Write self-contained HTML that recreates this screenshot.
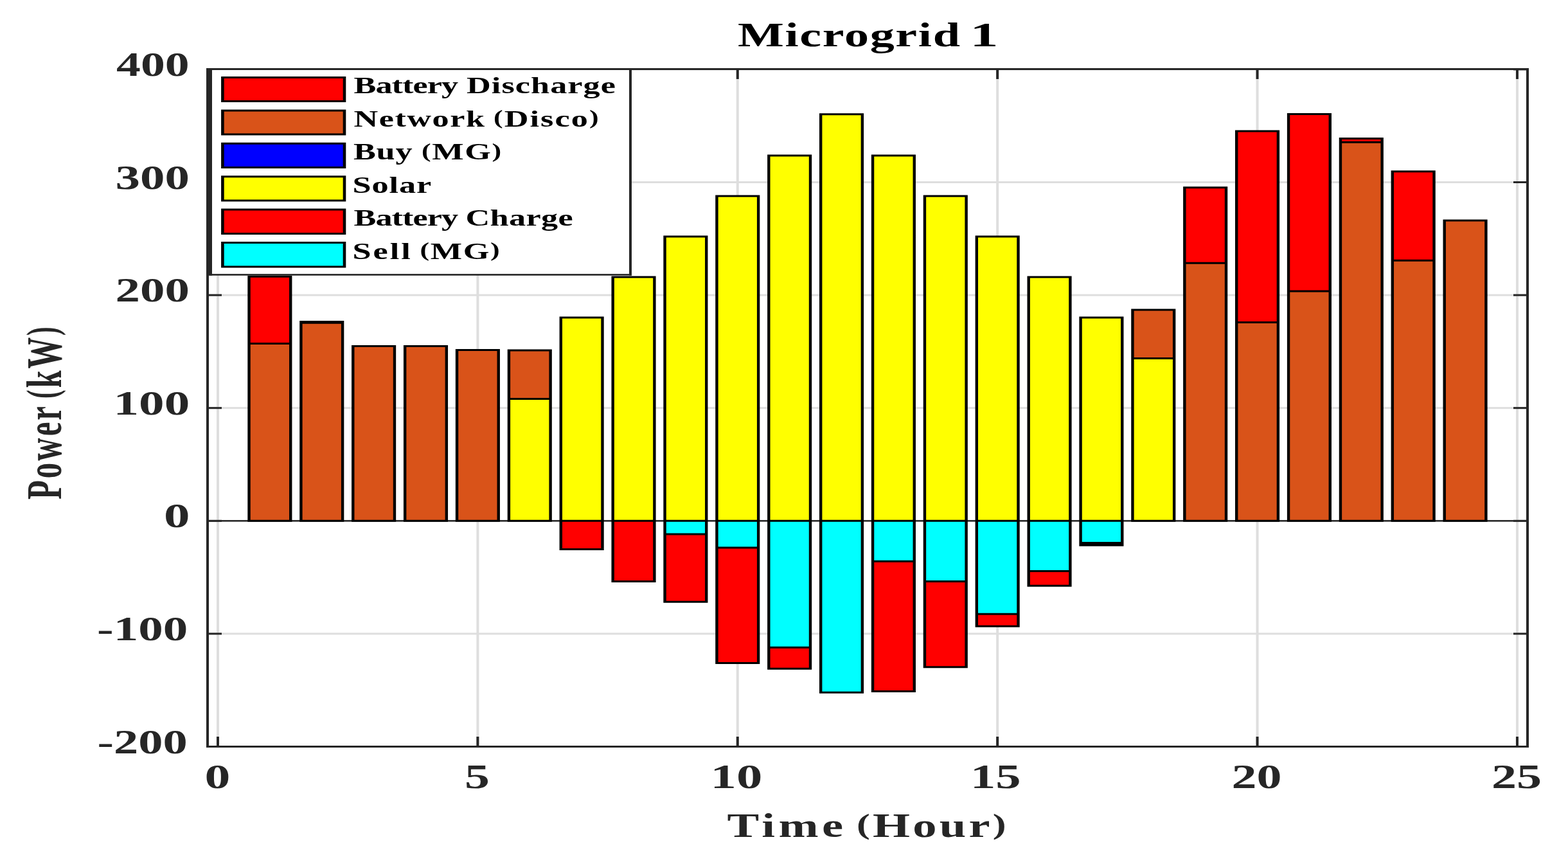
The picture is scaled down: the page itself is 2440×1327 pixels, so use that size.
<!DOCTYPE html><html><head><meta charset="utf-8"><title>Microgrid 1</title><style>html,body{margin:0;padding:0;background:#fff;}svg{display:block}text{font-family:"Liberation Serif","Times New Roman",serif;font-weight:bold;}</style></head><body>
<svg width="2440" height="1327" viewBox="0 0 2440 1327">
<rect x="0" y="0" width="2440" height="1327" fill="#fff"/>
<rect x="337" y="107.5" width="4" height="1054" fill="#dedede"/>
<rect x="741.39" y="107.5" width="4" height="1054" fill="#dedede"/>
<rect x="1145.78" y="107.5" width="4" height="1054" fill="#dedede"/>
<rect x="1550.17" y="107.5" width="4" height="1054" fill="#dedede"/>
<rect x="1954.56" y="107.5" width="4" height="1054" fill="#dedede"/>
<rect x="2358.95" y="107.5" width="4" height="1054" fill="#dedede"/>
<rect x="323" y="1160" width="2054" height="3" fill="#dedede"/>
<rect x="323" y="984.4" width="2054" height="3" fill="#dedede"/>
<rect x="323" y="808.8" width="2054" height="3" fill="#dedede"/>
<rect x="323" y="633.2" width="2054" height="3" fill="#dedede"/>
<rect x="323" y="457.6" width="2054" height="3" fill="#dedede"/>
<rect x="323" y="282" width="2054" height="3" fill="#dedede"/>
<rect x="323" y="106.4" width="2054" height="3" fill="#dedede"/>
<rect x="337" y="1146" width="4" height="15.5" fill="#262626"/>
<rect x="337" y="107.5" width="4" height="15.5" fill="#262626"/>
<rect x="741.39" y="1146" width="4" height="15.5" fill="#262626"/>
<rect x="741.39" y="107.5" width="4" height="15.5" fill="#262626"/>
<rect x="1145.78" y="1146" width="4" height="15.5" fill="#262626"/>
<rect x="1145.78" y="107.5" width="4" height="15.5" fill="#262626"/>
<rect x="1550.17" y="1146" width="4" height="15.5" fill="#262626"/>
<rect x="1550.17" y="107.5" width="4" height="15.5" fill="#262626"/>
<rect x="1954.56" y="1146" width="4" height="15.5" fill="#262626"/>
<rect x="1954.56" y="107.5" width="4" height="15.5" fill="#262626"/>
<rect x="2358.95" y="1146" width="4" height="15.5" fill="#262626"/>
<rect x="2358.95" y="107.5" width="4" height="15.5" fill="#262626"/>
<rect x="323" y="1160" width="22" height="3" fill="#262626"/>
<rect x="2355" y="1160" width="22" height="3" fill="#262626"/>
<rect x="323" y="984.4" width="22" height="3" fill="#262626"/>
<rect x="2355" y="984.4" width="22" height="3" fill="#262626"/>
<rect x="323" y="808.8" width="22" height="3" fill="#262626"/>
<rect x="2355" y="808.8" width="22" height="3" fill="#262626"/>
<rect x="323" y="633.2" width="22" height="3" fill="#262626"/>
<rect x="2355" y="633.2" width="22" height="3" fill="#262626"/>
<rect x="323" y="457.6" width="22" height="3" fill="#262626"/>
<rect x="2355" y="457.6" width="22" height="3" fill="#262626"/>
<rect x="323" y="282" width="22" height="3" fill="#262626"/>
<rect x="2355" y="282" width="22" height="3" fill="#262626"/>
<rect x="323" y="106.4" width="22" height="3" fill="#262626"/>
<rect x="2355" y="106.4" width="22" height="3" fill="#262626"/>
<rect x="323" y="809.05" width="2054" height="2.5" fill="#262626"/>
<rect x="387.53" y="534.5" width="64.7" height="275.8" fill="#d95319"/>
<rect x="387.53" y="430.2" width="64.7" height="104.3" fill="#ff0000"/>
<rect x="468.4" y="502.3" width="64.7" height="308" fill="#d95319"/>
<rect x="468.4" y="500.6" width="64.7" height="1.7" fill="#ff0000"/>
<rect x="549.28" y="538.6" width="64.7" height="271.7" fill="#d95319"/>
<rect x="630.16" y="538.6" width="64.7" height="271.7" fill="#d95319"/>
<rect x="711.04" y="544.5" width="64.7" height="265.8" fill="#d95319"/>
<rect x="791.92" y="620.5" width="64.7" height="189.8" fill="#ffff00"/>
<rect x="791.92" y="545" width="64.7" height="75.5" fill="#d95319"/>
<rect x="872.79" y="494" width="64.7" height="316.3" fill="#ffff00"/>
<rect x="872.79" y="810.3" width="64.7" height="44.2" fill="#ff0000"/>
<rect x="953.67" y="431" width="64.7" height="379.3" fill="#ffff00"/>
<rect x="953.67" y="810.3" width="64.7" height="94.3" fill="#ff0000"/>
<rect x="1034.55" y="367.9" width="64.7" height="442.4" fill="#ffff00"/>
<rect x="1034.55" y="810.3" width="64.7" height="20.7" fill="#00ffff"/>
<rect x="1034.55" y="831" width="64.7" height="105.3" fill="#ff0000"/>
<rect x="1115.43" y="304.9" width="64.7" height="505.4" fill="#ffff00"/>
<rect x="1115.43" y="810.3" width="64.7" height="41.8" fill="#00ffff"/>
<rect x="1115.43" y="852.1" width="64.7" height="179.4" fill="#ff0000"/>
<rect x="1196.31" y="241.9" width="64.7" height="568.4" fill="#ffff00"/>
<rect x="1196.31" y="810.3" width="64.7" height="197" fill="#00ffff"/>
<rect x="1196.31" y="1007.3" width="64.7" height="33" fill="#ff0000"/>
<rect x="1277.18" y="177.7" width="64.7" height="632.6" fill="#ffff00"/>
<rect x="1277.18" y="810.3" width="64.7" height="267" fill="#00ffff"/>
<rect x="1358.06" y="241.9" width="64.7" height="568.4" fill="#ffff00"/>
<rect x="1358.06" y="810.3" width="64.7" height="63" fill="#00ffff"/>
<rect x="1358.06" y="873.3" width="64.7" height="202.1" fill="#ff0000"/>
<rect x="1438.94" y="304.9" width="64.7" height="505.4" fill="#ffff00"/>
<rect x="1438.94" y="810.3" width="64.7" height="94.3" fill="#00ffff"/>
<rect x="1438.94" y="904.6" width="64.7" height="133.2" fill="#ff0000"/>
<rect x="1519.82" y="367.9" width="64.7" height="442.4" fill="#ffff00"/>
<rect x="1519.82" y="810.3" width="64.7" height="145" fill="#00ffff"/>
<rect x="1519.82" y="955.3" width="64.7" height="19" fill="#ff0000"/>
<rect x="1600.7" y="431.1" width="64.7" height="379.2" fill="#ffff00"/>
<rect x="1600.7" y="810.3" width="64.7" height="78.2" fill="#00ffff"/>
<rect x="1600.7" y="888.5" width="64.7" height="22.8" fill="#ff0000"/>
<rect x="1681.57" y="493.9" width="64.7" height="316.4" fill="#ffff00"/>
<rect x="1681.57" y="810.3" width="64.7" height="34.1" fill="#00ffff"/>
<rect x="1681.57" y="844.4" width="64.7" height="3.9" fill="#000"/>
<rect x="1762.45" y="557.6" width="64.7" height="252.7" fill="#ffff00"/>
<rect x="1762.45" y="482.1" width="64.7" height="75.5" fill="#d95319"/>
<rect x="1843.33" y="409.2" width="64.7" height="401.1" fill="#d95319"/>
<rect x="1843.33" y="291.8" width="64.7" height="117.4" fill="#ff0000"/>
<rect x="1924.21" y="501.5" width="64.7" height="308.8" fill="#d95319"/>
<rect x="1924.21" y="203.9" width="64.7" height="297.6" fill="#ff0000"/>
<rect x="2005.09" y="453" width="64.7" height="357.3" fill="#d95319"/>
<rect x="2005.09" y="177.6" width="64.7" height="275.4" fill="#ff0000"/>
<rect x="2085.96" y="221.2" width="64.7" height="589.1" fill="#d95319"/>
<rect x="2085.96" y="215.4" width="64.7" height="5.8" fill="#ff0000"/>
<rect x="2166.84" y="405.2" width="64.7" height="405.1" fill="#d95319"/>
<rect x="2166.84" y="266.8" width="64.7" height="138.4" fill="#ff0000"/>
<rect x="2247.72" y="343" width="64.7" height="467.3" fill="#d95319"/>
<path fill="#000" d="M385.33 428.7H454.43V431.7H385.33ZM385.33 533H454.43V536H385.33ZM385.33 808.8H454.43V811.8H385.33ZM385.33 428.7H389.73V811.8H385.33ZM450.03 428.7H454.43V811.8H450.03ZM466.2 499.1H535.31V502.1H466.2ZM466.2 500.8H535.31V503.8H466.2ZM466.2 808.8H535.31V811.8H466.2ZM466.2 499.1H470.6V811.8H466.2ZM530.91 499.1H535.31V811.8H530.91ZM547.08 537.1H616.19V540.1H547.08ZM547.08 808.8H616.19V811.8H547.08ZM547.08 537.1H551.48V811.8H547.08ZM611.79 537.1H616.19V811.8H611.79ZM627.96 537.1H697.06V540.1H627.96ZM627.96 808.8H697.06V811.8H627.96ZM627.96 537.1H632.36V811.8H627.96ZM692.66 537.1H697.06V811.8H692.66ZM708.84 543H777.94V546H708.84ZM708.84 808.8H777.94V811.8H708.84ZM708.84 543H713.24V811.8H708.84ZM773.54 543H777.94V811.8H773.54ZM789.72 543.5H858.82V546.5H789.72ZM789.72 619H858.82V622H789.72ZM789.72 808.8H858.82V811.8H789.72ZM789.72 543.5H794.12V811.8H789.72ZM854.42 543.5H858.82V811.8H854.42ZM870.59 492.5H939.7V495.5H870.59ZM870.59 808.8H939.7V811.8H870.59ZM870.59 492.5H874.99V811.8H870.59ZM935.3 492.5H939.7V811.8H935.3ZM870.59 808.8H939.7V811.8H870.59ZM870.59 853H939.7V856H870.59ZM870.59 808.8H874.99V856H870.59ZM935.3 808.8H939.7V856H935.3ZM951.47 429.5H1020.58V432.5H951.47ZM951.47 808.8H1020.58V811.8H951.47ZM951.47 429.5H955.87V811.8H951.47ZM1016.18 429.5H1020.58V811.8H1016.18ZM951.47 808.8H1020.58V811.8H951.47ZM951.47 903.1H1020.58V906.1H951.47ZM951.47 808.8H955.87V906.1H951.47ZM1016.18 808.8H1020.58V906.1H1016.18ZM1032.35 366.4H1101.45V369.4H1032.35ZM1032.35 808.8H1101.45V811.8H1032.35ZM1032.35 366.4H1036.75V811.8H1032.35ZM1097.05 366.4H1101.45V811.8H1097.05ZM1032.35 808.8H1101.45V811.8H1032.35ZM1032.35 829.5H1101.45V832.5H1032.35ZM1032.35 934.8H1101.45V937.8H1032.35ZM1032.35 808.8H1036.75V937.8H1032.35ZM1097.05 808.8H1101.45V937.8H1097.05ZM1113.23 303.4H1182.33V306.4H1113.23ZM1113.23 808.8H1182.33V811.8H1113.23ZM1113.23 303.4H1117.63V811.8H1113.23ZM1177.93 303.4H1182.33V811.8H1177.93ZM1113.23 808.8H1182.33V811.8H1113.23ZM1113.23 850.6H1182.33V853.6H1113.23ZM1113.23 1030H1182.33V1033H1113.23ZM1113.23 808.8H1117.63V1033H1113.23ZM1177.93 808.8H1182.33V1033H1177.93ZM1194.11 240.4H1263.21V243.4H1194.11ZM1194.11 808.8H1263.21V811.8H1194.11ZM1194.11 240.4H1198.51V811.8H1194.11ZM1258.81 240.4H1263.21V811.8H1258.81ZM1194.11 808.8H1263.21V811.8H1194.11ZM1194.11 1005.8H1263.21V1008.8H1194.11ZM1194.11 1038.8H1263.21V1041.8H1194.11ZM1194.11 808.8H1198.51V1041.8H1194.11ZM1258.81 808.8H1263.21V1041.8H1258.81ZM1274.98 176.2H1344.09V179.2H1274.98ZM1274.98 808.8H1344.09V811.8H1274.98ZM1274.98 176.2H1279.38V811.8H1274.98ZM1339.69 176.2H1344.09V811.8H1339.69ZM1274.98 808.8H1344.09V811.8H1274.98ZM1274.98 1075.8H1344.09V1078.8H1274.98ZM1274.98 808.8H1279.38V1078.8H1274.98ZM1339.69 808.8H1344.09V1078.8H1339.69ZM1355.86 240.4H1424.97V243.4H1355.86ZM1355.86 808.8H1424.97V811.8H1355.86ZM1355.86 240.4H1360.26V811.8H1355.86ZM1420.57 240.4H1424.97V811.8H1420.57ZM1355.86 808.8H1424.97V811.8H1355.86ZM1355.86 871.8H1424.97V874.8H1355.86ZM1355.86 1073.9H1424.97V1076.9H1355.86ZM1355.86 808.8H1360.26V1076.9H1355.86ZM1420.57 808.8H1424.97V1076.9H1420.57ZM1436.74 303.4H1505.84V306.4H1436.74ZM1436.74 808.8H1505.84V811.8H1436.74ZM1436.74 303.4H1441.14V811.8H1436.74ZM1501.44 303.4H1505.84V811.8H1501.44ZM1436.74 808.8H1505.84V811.8H1436.74ZM1436.74 903.1H1505.84V906.1H1436.74ZM1436.74 1036.3H1505.84V1039.3H1436.74ZM1436.74 808.8H1441.14V1039.3H1436.74ZM1501.44 808.8H1505.84V1039.3H1501.44ZM1517.62 366.4H1586.72V369.4H1517.62ZM1517.62 808.8H1586.72V811.8H1517.62ZM1517.62 366.4H1522.02V811.8H1517.62ZM1582.32 366.4H1586.72V811.8H1582.32ZM1517.62 808.8H1586.72V811.8H1517.62ZM1517.62 953.8H1586.72V956.8H1517.62ZM1517.62 972.8H1586.72V975.8H1517.62ZM1517.62 808.8H1522.02V975.8H1517.62ZM1582.32 808.8H1586.72V975.8H1582.32ZM1598.5 429.6H1667.6V432.6H1598.5ZM1598.5 808.8H1667.6V811.8H1598.5ZM1598.5 429.6H1602.9V811.8H1598.5ZM1663.2 429.6H1667.6V811.8H1663.2ZM1598.5 808.8H1667.6V811.8H1598.5ZM1598.5 887H1667.6V890H1598.5ZM1598.5 909.8H1667.6V912.8H1598.5ZM1598.5 808.8H1602.9V912.8H1598.5ZM1663.2 808.8H1667.6V912.8H1663.2ZM1679.37 492.4H1748.48V495.4H1679.37ZM1679.37 808.8H1748.48V811.8H1679.37ZM1679.37 492.4H1683.77V811.8H1679.37ZM1744.08 492.4H1748.48V811.8H1744.08ZM1679.37 808.8H1748.48V811.8H1679.37ZM1679.37 842.9H1748.48V845.9H1679.37ZM1679.37 846.8H1748.48V849.8H1679.37ZM1679.37 808.8H1683.77V849.8H1679.37ZM1744.08 808.8H1748.48V849.8H1744.08ZM1760.25 480.6H1829.36V483.6H1760.25ZM1760.25 556.1H1829.36V559.1H1760.25ZM1760.25 808.8H1829.36V811.8H1760.25ZM1760.25 480.6H1764.65V811.8H1760.25ZM1824.96 480.6H1829.36V811.8H1824.96ZM1841.13 290.3H1910.23V293.3H1841.13ZM1841.13 407.7H1910.23V410.7H1841.13ZM1841.13 808.8H1910.23V811.8H1841.13ZM1841.13 290.3H1845.53V811.8H1841.13ZM1905.83 290.3H1910.23V811.8H1905.83ZM1922.01 202.4H1991.11V205.4H1922.01ZM1922.01 500H1991.11V503H1922.01ZM1922.01 808.8H1991.11V811.8H1922.01ZM1922.01 202.4H1926.41V811.8H1922.01ZM1986.71 202.4H1991.11V811.8H1986.71ZM2002.89 176.1H2071.99V179.1H2002.89ZM2002.89 451.5H2071.99V454.5H2002.89ZM2002.89 808.8H2071.99V811.8H2002.89ZM2002.89 176.1H2007.29V811.8H2002.89ZM2067.59 176.1H2071.99V811.8H2067.59ZM2083.76 213.9H2152.87V216.9H2083.76ZM2083.76 219.7H2152.87V222.7H2083.76ZM2083.76 808.8H2152.87V811.8H2083.76ZM2083.76 213.9H2088.16V811.8H2083.76ZM2148.47 213.9H2152.87V811.8H2148.47ZM2164.64 265.3H2233.75V268.3H2164.64ZM2164.64 403.7H2233.75V406.7H2164.64ZM2164.64 808.8H2233.75V811.8H2164.64ZM2164.64 265.3H2169.04V811.8H2164.64ZM2229.35 265.3H2233.75V811.8H2229.35ZM2245.52 341.5H2314.62V344.5H2245.52ZM2245.52 808.8H2314.62V811.8H2245.52ZM2245.52 341.5H2249.92V811.8H2245.52ZM2310.22 341.5H2314.62V811.8H2310.22Z"/>
<rect x="321" y="106" width="2058" height="3" fill="#262626"/>
<rect x="321" y="1160" width="2058" height="3" fill="#262626"/>
<rect x="321" y="106" width="4" height="1057" fill="#262626"/>
<rect x="2375" y="106" width="4" height="1057" fill="#262626"/>
<rect x="327.5" y="107.5" width="653.5" height="319.9" fill="#fff"/>
<rect x="325.5" y="106" width="657.5" height="3" fill="#262626"/>
<rect x="325.5" y="426.1" width="657.5" height="2.6" fill="#262626"/>
<rect x="324" y="106" width="6" height="322.7" fill="#262626"/>
<rect x="979" y="106" width="4" height="322.7" fill="#262626"/>
<rect x="346.4" y="120.5" width="189.6" height="37" fill="#ff0000"/>
<rect x="346.4" y="171.9" width="189.6" height="37.1" fill="#d95319"/>
<rect x="346.4" y="223.3" width="189.6" height="37.2" fill="#0000ff"/>
<rect x="346.4" y="274.7" width="189.6" height="37.3" fill="#ffff00"/>
<rect x="346.4" y="326.1" width="189.6" height="37.4" fill="#ff0000"/>
<rect x="346.4" y="377.5" width="189.6" height="37.5" fill="#00ffff"/>
<path fill="#000" d="M344.1 119H538.3V122H344.1ZM344.1 156H538.3V159H344.1ZM344.1 119H348.7V159H344.1ZM533.7 119H538.3V159H533.7ZM344.1 170.4H538.3V173.4H344.1ZM344.1 207.5H538.3V210.5H344.1ZM344.1 170.4H348.7V210.5H344.1ZM533.7 170.4H538.3V210.5H533.7ZM344.1 221.8H538.3V224.8H344.1ZM344.1 259H538.3V262H344.1ZM344.1 221.8H348.7V262H344.1ZM533.7 221.8H538.3V262H533.7ZM344.1 273.2H538.3V276.2H344.1ZM344.1 310.5H538.3V313.5H344.1ZM344.1 273.2H348.7V313.5H344.1ZM533.7 273.2H538.3V313.5H533.7ZM344.1 324.6H538.3V327.6H344.1ZM344.1 362H538.3V365H344.1ZM344.1 324.6H348.7V365H344.1ZM533.7 324.6H538.3V365H533.7ZM344.1 376H538.3V379H344.1ZM344.1 413.5H538.3V416.5H344.1ZM344.1 376H348.7V416.5H344.1ZM533.7 376H538.3V416.5H533.7Z"/>
<text x="0" y="0" font-size="51.8" textLength="235.38" lengthAdjust="spacing" fill="#000" transform="translate(1148 71.9) scale(1.47 1)">Microgrid</text>
<text x="1509.5" y="71.9" font-size="51.8" textLength="44.02" lengthAdjust="spacingAndGlyphs" fill="#000">1</text>
<text x="0" y="0" font-size="53.3" textLength="128.97" lengthAdjust="spacing" fill="#262626" transform="translate(1131.5 1301.9) scale(1.4 1)">Time</text>
<text x="0" y="0" font-size="53.3" textLength="166.18" lengthAdjust="spacing" fill="#262626" transform="translate(1333 1301.9) scale(1.4 1)"><tspan font-size="44.77" dy="-4.85">(</tspan><tspan dy="4.85">Hour</tspan><tspan font-size="44.77" dy="-4.85">)</tspan></text>
<text x="181" y="117.9" font-size="52.2" textLength="113.63" lengthAdjust="spacingAndGlyphs" fill="#262626">400</text>
<text x="179.5" y="293.5" font-size="52.2" textLength="115.35" lengthAdjust="spacingAndGlyphs" fill="#262626">300</text>
<text x="179.5" y="469.1" font-size="52.2" textLength="115.35" lengthAdjust="spacingAndGlyphs" fill="#262626">200</text>
<text x="176.5" y="644.7" font-size="52.2" textLength="118.81" lengthAdjust="spacingAndGlyphs" fill="#262626">100</text>
<text x="255" y="820.3" font-size="52.2" textLength="40.48" lengthAdjust="spacingAndGlyphs" fill="#262626">0</text>
<text x="151" y="995.9" font-size="52.2" textLength="141.24" lengthAdjust="spacingAndGlyphs" fill="#262626">-100</text>
<text x="151.5" y="1171.5" font-size="52.2" textLength="140.24" lengthAdjust="spacingAndGlyphs" fill="#262626">-200</text>
<text x="318.5" y="1226.3" font-size="52.4" textLength="39.88" lengthAdjust="spacingAndGlyphs" fill="#262626">0</text>
<text x="723" y="1226.3" font-size="52.4" textLength="38.91" lengthAdjust="spacingAndGlyphs" fill="#262626">5</text>
<text x="1105.5" y="1226.3" font-size="52.4" textLength="80.75" lengthAdjust="spacingAndGlyphs" fill="#262626">10</text>
<text x="1510" y="1226.3" font-size="52.4" textLength="78.64" lengthAdjust="spacingAndGlyphs" fill="#262626">15</text>
<text x="1916.5" y="1226.3" font-size="52.4" textLength="78" lengthAdjust="spacingAndGlyphs" fill="#262626">20</text>
<text x="2321" y="1226.3" font-size="52.4" textLength="78.11" lengthAdjust="spacingAndGlyphs" fill="#262626">25</text>
<text x="0" y="0" font-size="36.8" textLength="114.45" lengthAdjust="spacing" fill="#000" transform="translate(550.5 145) scale(1.42 1)">Battery</text>
<text x="0" y="0" font-size="36.8" textLength="163.39" lengthAdjust="spacing" fill="#000" transform="translate(726 145) scale(1.42 1)">Discharge</text>
<text x="0" y="0" font-size="36.8" textLength="143.32" lengthAdjust="spacing" fill="#000" transform="translate(550.5 196.5) scale(1.42 1)">Network</text>
<text x="0" y="0" font-size="36.8" textLength="115.21" lengthAdjust="spacing" fill="#000" transform="translate(768 196.5) scale(1.42 1)"><tspan font-size="30.91" dy="-3.35">(</tspan><tspan dy="3.35">Disco</tspan><tspan font-size="30.91" dy="-3.35">)</tspan></text>
<text x="0" y="0" font-size="36.8" textLength="64.46" lengthAdjust="spacing" fill="#000" transform="translate(550 248) scale(1.42 1)">Buy</text>
<text x="0" y="0" font-size="36.8" textLength="87.4" lengthAdjust="spacing" fill="#000" transform="translate(656 248) scale(1.42 1)"><tspan font-size="30.91" dy="-3.35">(</tspan><tspan dy="3.35">MG</tspan><tspan font-size="30.91" dy="-3.35">)</tspan></text>
<text x="0" y="0" font-size="36.8" textLength="86.39" lengthAdjust="spacing" fill="#000" transform="translate(548.5 299.5) scale(1.42 1)">Solar</text>
<text x="0" y="0" font-size="36.8" textLength="114.45" lengthAdjust="spacing" fill="#000" transform="translate(550.5 351) scale(1.42 1)">Battery</text>
<text x="0" y="0" font-size="36.8" textLength="117.68" lengthAdjust="spacing" fill="#000" transform="translate(724.5 351) scale(1.42 1)">Charge</text>
<text x="0" y="0" font-size="36.8" textLength="63.52" lengthAdjust="spacing" fill="#000" transform="translate(548.5 402.5) scale(1.42 1)">Sell</text>
<text x="0" y="0" font-size="36.8" textLength="87.42" lengthAdjust="spacing" fill="#000" transform="translate(653.5 402.5) scale(1.42 1)"><tspan font-size="30.91" dy="-3.35">(</tspan><tspan dy="3.35">MG</tspan><tspan font-size="30.91" dy="-3.35">)</tspan></text>
<text x="0" y="0" font-size="52.5" textLength="155.95" lengthAdjust="spacing" fill="#262626" transform="translate(94.8 777) scale(1.51 1) rotate(-90) scale(0.93 1)">Power</text>
<text x="0" y="0" font-size="52.5" textLength="120.04" lengthAdjust="spacing" fill="#262626" transform="translate(94.8 620) scale(1.51 1) rotate(-90) scale(0.93 1)"><tspan font-size="44.1" dy="-4.78">(</tspan><tspan dy="4.78">kW</tspan><tspan font-size="44.1" dy="-4.78">)</tspan></text>
</svg></body></html>
